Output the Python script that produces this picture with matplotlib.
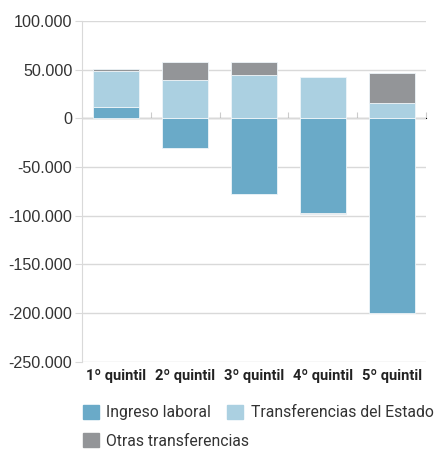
import numpy as np
import matplotlib.pyplot as plt
from matplotlib.patches import Patch

# datos por quintil
quintiles = ['1º quintil', '2º quintil', '3º quintil', '4º quintil', '5º quintil']
ingreso_laboral = [11500, -30000, -78000, -97000, -200000]
transferencias_estado = [37500, 39500, 45000, 43000, 15500]
otras_transferencias = [1500, 18500, 13000, -1500, 31000]

series = [ingreso_laboral, transferencias_estado, otras_transferencias]
nombres = ['Ingreso laboral', 'Transferencias del Estado', 'Otras transferencias']
colores = ['#6aaac8', '#abd0e1', '#939598']

fig = plt.figure(figsize=(4.41, 4.5), dpi=100)
ax = fig.add_axes([0.186, 0.196, 0.78, 0.757])

x = np.arange(len(quintiles))
pos = np.zeros(len(quintiles))
neg = np.zeros(len(quintiles))
for vals, nombre, col in zip(series, nombres, colores):
    vals = np.array(vals, dtype=float)
    base = np.where(vals >= 0, pos, neg)
    ax.bar(x, vals, bottom=base, width=0.67, color=col, edgecolor='#eef5f9',
           linewidth=0.6, label=nombre, zorder=3)
    pos = pos + np.where(vals >= 0, vals, 0)
    neg = neg + np.where(vals < 0, vals, 0)

ax.set_xlim(-0.5, 4.5)
ax.set_ylim(-250000, 100000)
ax.set_yticks(np.arange(-250000, 100001, 50000))
ax.set_yticklabels([f'{v:,.0f}'.replace(',', '.') for v in ax.get_yticks()],
                   fontsize=11.6, color='#333333', family='Liberation Sans')
ax.grid(axis='y', color='#d9d9d9', linewidth=1, zorder=0)
ax.tick_params(axis='y', length=5, color='#d9d9d9', pad=2)

for s in ['top', 'right', 'bottom']:
    ax.spines[s].set_visible(False)
ax.spines['left'].set_color('#d9d9d9')

ax.set_xticks(x)
ax.set_xticklabels(quintiles, fontsize=10.5, fontweight='bold', color='#222222',
                   family='Roboto')
ax.tick_params(axis='x', length=0, pad=5)

# marcas entre categorias sobre la linea del cero
loc0 = (0 - ax.get_ylim()[0]) / (ax.get_ylim()[1] - ax.get_ylim()[0])
sec = ax.secondary_xaxis(loc0)
sec.set_xticks(np.arange(-0.5, 5, 1))
sec.set_xticklabels([])
sec.tick_params(length=4, color='#cccccc')
sec.spines['bottom'].set_color('#d9d9d9')

# leyenda en dos filas (flujo como en el original)
handles = [Patch(color=c) for c in colores]
estilo = dict(frameon=False, handlelength=1.0, handleheight=1.0,
              handletextpad=0.5, columnspacing=1.0, borderpad=0,
              borderaxespad=0, prop={'family': 'Roboto', 'size': 11.3},
              labelcolor='#333333')
fila1 = fig.legend(handles[:2], nombres[:2], loc='center left',
                   bbox_to_anchor=(0.188, 0.084), ncol=2, **estilo)
fig.legend(handles[2:], nombres[2:], loc='center left',
           bbox_to_anchor=(0.188, 0.02), ncol=1, **estilo)

fig.savefig('out.png', dpi=100)
